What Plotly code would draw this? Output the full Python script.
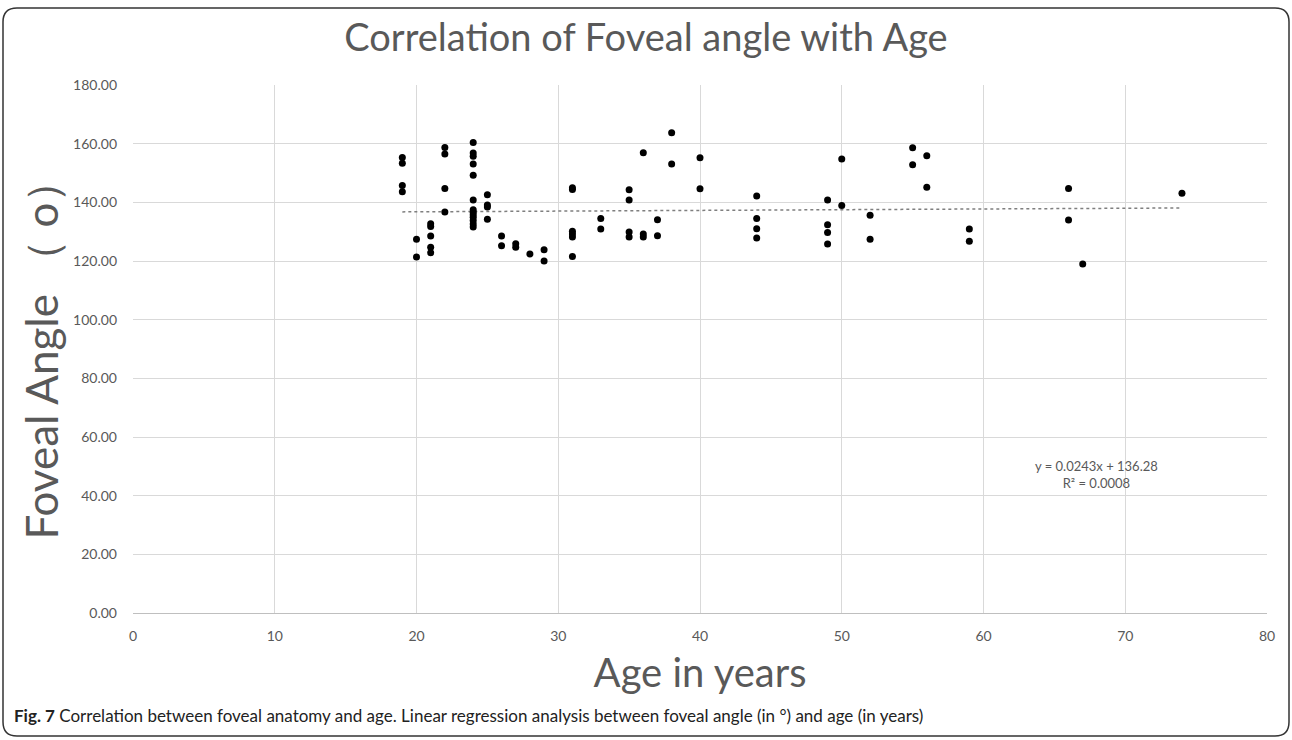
import plotly.graph_objects as go

ages = [19, 19, 19, 19,
        20, 20,
        21, 21, 21, 21, 21,
        22, 22, 22, 22,
        24, 24, 24, 24, 24, 24, 24, 24, 24, 24, 24, 24, 24,
        25, 25, 25, 25,
        26, 26,
        27, 27,
        28,
        29, 29,
        31, 31, 31, 31, 31, 31,
        33, 33,
        35, 35, 35, 35,
        36, 36, 36,
        37, 37,
        38, 38,
        40, 40,
        44, 44, 44, 44,
        49, 49, 49, 49,
        50, 50,
        52, 52,
        55, 55,
        56, 56,
        59, 59,
        66, 66,
        67,
        74]
angles = [155.3, 153.3, 145.7, 143.6,
          127.4, 121.4,
          132.7, 131.8, 128.5, 124.7, 122.8,
          158.7, 156.5, 144.7, 136.7,
          160.4, 156.8, 155.7, 153.1, 149.2, 140.8, 137.5, 136.6, 135.8, 134.9, 133.8, 132.6, 131.6,
          142.6, 139.1, 138.4, 134.2,
          128.5, 125.2,
          125.9, 124.7,
          122.4,
          123.8, 120.0,
          145.0, 144.4, 130.1, 129.2, 128.2, 121.5,
          134.5, 130.9,
          144.3, 140.8, 129.9, 128.2,
          156.9, 129.2, 128.2,
          134.1, 128.6,
          163.7, 153.1,
          155.2, 144.6,
          142.2, 134.5, 131.0, 127.8,
          140.8, 132.4, 129.7, 125.8,
          154.8, 138.9,
          135.6, 127.4,
          158.6, 152.8,
          155.9, 145.1,
          130.9, 126.7,
          144.7, 134.0,
          119.0,
          143.1]

slope = 0.0243
intercept = 136.28
r2 = 0.0008
trend_x = [min(ages), max(ages)]
trend_y = [slope * a + intercept for a in trend_x]

x_ticks = [0, 10, 20, 30, 40, 50, 60, 70, 80]
y_ticks = [0, 20, 40, 60, 80, 100, 120, 140, 160, 180]

grey = "#595959"
font = "Lato"


def px_to_paper_x(p):
    return (p - 133) / 1134


def py_to_paper_y(p):
    return (613 - p) / 528


fig = go.Figure()
fig.add_trace(go.Scatter(x=trend_x, y=trend_y, mode="lines",
                         line=dict(color="#7f7f7f", width=1.5, dash="dot"),
                         showlegend=False, hoverinfo="skip"))
fig.add_trace(go.Scatter(x=ages, y=angles, mode="markers",
                         marker=dict(color="black", size=7),
                         showlegend=False))

fig.add_annotation(x=68, y=47.3, xref="x", yref="y",
                   text=f"y = {slope}x + {intercept}<br>R² = {r2}",
                   showarrow=False, align="center",
                   font=dict(family=font, size=13, color=grey))

fig.add_annotation(x=px_to_paper_x(12), y=py_to_paper_y(715), xref="paper", yref="paper",
                   text="<b>Fig. 7</b> Correlation between foveal anatomy and age. Linear regression analysis between foveal angle (in °) and age (in years)",
                   showarrow=False, xanchor="left", yanchor="middle",
                   font=dict(family=font, size=17, color="#222222"))

# Rounded border
x0, x1 = px_to_paper_x(3), px_to_paper_x(1289)
y0, y1 = py_to_paper_y(736), py_to_paper_y(8)
rx = 14 / 1134
ry = 14 / 528
path = (f"M {x0+rx},{y1} L {x1-rx},{y1} Q {x1},{y1} {x1},{y1-ry} "
        f"L {x1},{y0+ry} Q {x1},{y0} {x1-rx},{y0} "
        f"L {x0+rx},{y0} Q {x0},{y0} {x0},{y0+ry} "
        f"L {x0},{y1-ry} Q {x0},{y1} {x0+rx},{y1} Z")
fig.add_shape(type="path", path=path, xref="paper", yref="paper",
              line=dict(color="#333333", width=1.5), layer="above")

fig.update_layout(
    width=1292, height=740,
    margin=dict(l=133, r=25, t=85, b=127),
    paper_bgcolor="white", plot_bgcolor="white",
    title=dict(text="Correlation of Foveal angle with Age", x=0.5, xanchor="center",
               y=1 - 38 / 740, yanchor="middle",
               font=dict(family=font, size=38, color=grey)),
    xaxis=dict(range=[0, 80], tickvals=x_ticks, ticktext=[str(v) for v in x_ticks],
               showgrid=True, gridcolor="#d9d9d9", gridwidth=1,
               showline=True, linecolor="#bfbfbf", zeroline=False,
               tickfont=dict(family=font, size=14, color=grey), ticks="",
               ticklabelstandoff=10,
               title=dict(text="Age in years", standoff=16,
                          font=dict(family=font, size=40, color=grey))),
    yaxis=dict(range=[0, 180], tickvals=y_ticks, ticktext=[f"{v:.2f}" for v in y_ticks],
               showgrid=True, gridcolor="#d9d9d9", gridwidth=1,
               showline=False, zeroline=False,
               tickfont=dict(family=font, size=14, color=grey), ticks="",
               ticklabelstandoff=15,
               title=dict(text="Foveal Angle （ o）", standoff=0,
                          font=dict(family=font, size=44, color=grey))),
)

fig.write_html("out.html")
